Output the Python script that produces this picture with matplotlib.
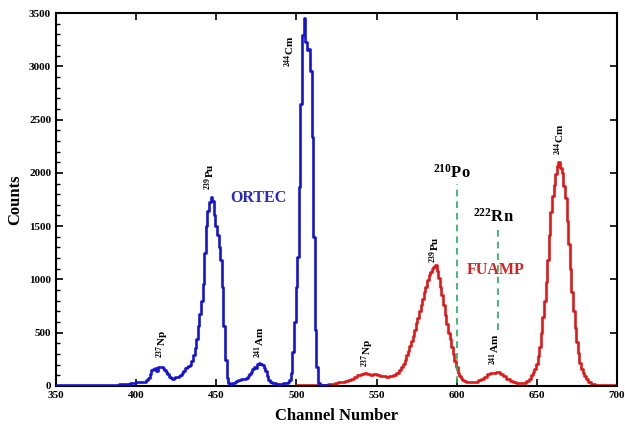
import matplotlib
matplotlib.use("Agg")
import matplotlib.pyplot as plt
from matplotlib.ticker import MultipleLocator

plt.rcParams['font.family'] = ['Liberation Serif', 'DejaVu Serif']
plt.rcParams['font.weight'] = 'bold'
plt.rcParams['mathtext.fontset'] = 'custom'
plt.rcParams['mathtext.rm'] = 'Liberation Serif:bold'
plt.rcParams['mathtext.bf'] = 'Liberation Serif:bold'
plt.rcParams['mathtext.it'] = 'Liberation Serif:bold'

# ORTEC spectrum (channel, counts)
ortec_ch = [350, 356, 362, 368, 374, 380, 386, 392, 395, 397, 399, 401, 403, 405, 407,
            408, 409, 410, 411, 412, 413, 414, 415, 416, 417, 418, 419, 420, 421, 422,
            423, 424, 425, 426, 427, 428, 429, 430, 431, 432, 433, 434, 435, 436, 437,
            438, 439, 440, 441, 442, 443, 444, 445, 446, 447, 448, 449, 450, 451, 452,
            453, 454, 455, 456, 457, 458, 459, 460, 461, 462, 463, 464, 465, 466, 467,
            468, 469, 470, 471, 472, 473, 474, 475, 476, 477, 478, 479, 480, 481, 482,
            483, 484, 485, 486, 487, 488, 489, 490, 491, 492, 493, 494, 495, 496, 497,
            498, 499, 500, 501, 502, 503, 504, 505, 506, 507, 508, 509, 510, 511, 512,
            513, 514, 515, 516, 518, 520]
ortec_counts = [10, 12, 10, 11, 12, 13, 14, 18, 22, 28, 32, 35, 38, 42, 55,
                72, 110, 150, 160, 168, 140, 175, 182, 180, 165, 150, 132, 110, 85, 72,
                70, 75, 82, 88, 95, 105, 118, 140, 165, 182, 190, 200, 230, 290, 360,
                440, 560, 680, 800, 960, 1250, 1500, 1640, 1730, 1775, 1740, 1600, 1500, 1420, 1300,
                1180, 930, 560, 240, 72, 28, 22, 25, 28, 35, 45, 52, 56, 62, 66,
                70, 75, 90, 110, 135, 160, 180, 170, 205, 215, 210, 198, 170, 140, 95,
                60, 40, 28, 25, 24, 23, 22, 22, 23, 25, 28, 32, 40, 60, 120,
                320, 600, 930, 1210, 1870, 2650, 3290, 3450, 3230, 3150, 3160, 2960, 2340, 1400, 525,
                180, 30, 8, 5, 5, 5]

# FUAMP spectrum (channel, counts)
fuamp_ch = [500, 505, 510, 515, 518, 521, 523, 525, 527, 529, 531, 533, 535, 537, 539,
            541, 543, 545, 547, 549, 551, 553, 555, 557, 559, 561, 563, 565, 566, 567,
            568, 569, 570, 571, 572, 573, 574, 575, 576, 577, 578, 579, 580, 581, 582,
            583, 584, 585, 586, 587, 588, 589, 590, 591, 592, 593, 594, 595, 596, 597,
            598, 599, 600, 601, 602, 603, 604, 605, 606, 607, 608, 610, 612, 614, 616,
            618, 620, 622, 624, 625, 626, 628, 630, 632, 634, 636, 638, 640, 642, 644,
            646, 647, 648, 649, 650, 651, 652, 653, 654, 655, 656, 657, 658, 659, 660,
            661, 662, 663, 664, 665, 666, 667, 668, 669, 670, 671, 672, 673, 674, 675,
            676, 677, 678, 679, 680, 681, 683, 685, 687, 690, 695, 700]
fuamp_counts = [8, 9, 10, 11, 12, 15, 22, 28, 33, 40, 48, 58, 70, 85, 100,
                115, 125, 108, 105, 108, 102, 98, 90, 86, 95, 105, 125, 150, 180, 210,
                245, 290, 330, 380, 420, 470, 530, 590, 640, 700, 760, 820, 880, 930, 990,
                1040, 1070, 1100, 1120, 1135, 1080, 1010, 930, 850, 760, 670, 580, 500, 440, 370,
                300, 230, 180, 120, 95, 75, 60, 50, 42, 38, 35, 36, 40, 52, 70,
                88, 108, 118, 125, 135, 130, 110, 92, 70, 50, 38, 28, 25, 30, 45,
                70, 100, 135, 160, 210, 280, 370, 500, 650, 800, 980, 1180, 1420, 1630, 1780,
                1890, 1990, 2060, 2100, 2050, 2000, 1880, 1760, 1550, 1330, 1100, 880, 700, 540, 410,
                310, 220, 160, 120, 90, 65, 35, 20, 14, 12, 12, 12]

# Reference lines: (channel, y_start, y_end)
po_line = (600, 30, 1900)
rn_line = (625.5, 530, 1490)

# Peak labels: (text, channel, counts)
ortec_labels = [(r'$^{237}$Np', 416.5, 265), (r'$^{239}$Pu', 446, 1840),
                (r'$^{241}$Am', 477, 265), (r'$^{244}$Cm', 496, 2990)]
fuamp_labels = [(r'$^{237}$Np', 544.5, 180), (r'$^{239}$Pu', 586.5, 1155),
                (r'$^{241}$Am', 624, 200), (r'$^{244}$Cm', 664.5, 2170)]

blue = '#1414d4'
red = '#e01818'
green = '#22b060'

fig = plt.figure(figsize=(6.25, 4.34), dpi=100)
ax = fig.add_axes([0.0896, 0.1106, 0.8976, 0.8594])

ax.step(ortec_ch, ortec_counts, where='mid', color=blue, lw=1.9, zorder=3)
ax.step(fuamp_ch, fuamp_counts, where='mid', color=red, lw=1.9, zorder=2)

for c, y0, y1 in (po_line, rn_line):
    ax.plot([c, c], [y0, y1], color=green, lw=1.2, ls=(0, (4, 3)), zorder=4)

for t, x, y in ortec_labels + fuamp_labels:
    ax.text(x, y, t, rotation=90, ha='center', va='bottom', fontsize=8,
            fontweight='bold', color='black')

ax.text(476, 1765, 'ORTEC', color='#2a2ac8', fontsize=11.5, fontweight='bold',
        ha='center', va='center')
ax.text(624, 1090, 'FUAMP', color='#d82020', fontsize=11.5, fontweight='bold',
        ha='center', va='center')
ax.text(597, 1998, r'$^{210}$Po', fontsize=12, fontweight='bold', ha='center', va='center')
ax.text(623, 1590, r'$^{222}$Rn', fontsize=12, fontweight='bold', ha='center', va='center')

ax.set_xlim(350, 700)
ax.set_ylim(0, 3500)
ax.xaxis.set_major_locator(MultipleLocator(50))
ax.yaxis.set_major_locator(MultipleLocator(500))
ax.yaxis.set_minor_locator(MultipleLocator(100))
ax.tick_params(which='major', direction='in', length=5, width=1.2, top=True, right=True,
               labelsize=8)
ax.tick_params(which='minor', direction='in', length=3, width=1, left=True, right=False)
for lab in ax.get_xticklabels() + ax.get_yticklabels():
    lab.set_fontweight('bold')
for s in ax.spines.values():
    s.set_linewidth(1.5)

ax.set_xlabel('Channel Number', fontsize=12, fontweight='bold', labelpad=6)
ax.set_ylabel('Counts', fontsize=12, fontweight='bold', labelpad=4)

fig.savefig('out.png', dpi=100)
